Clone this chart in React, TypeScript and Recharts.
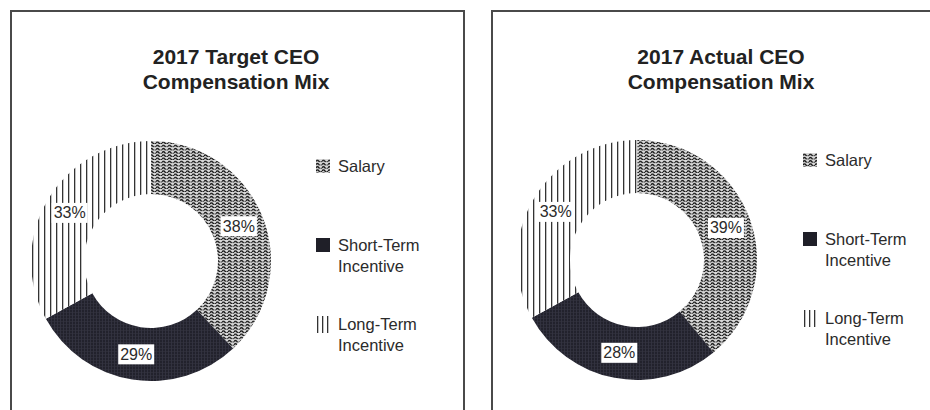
import { Legend, Pie, PieChart, Cell } from "recharts";

const categories = ["Salary", "Short-Term Incentive", "Long-Term Incentive"];
const legendLines = [["Salary"], ["Short-Term", "Incentive"], ["Long-Term", "Incentive"]];
const targetValues = [38, 29, 33];
const actualValues = [39, 28, 33];
const fills = ["url(#wave)", "url(#grid)", "url(#vlines)"];

const FONT = '"Liberation Sans", Arial, Helvetica, sans-serif';
const RAD = Math.PI / 180;

function buildRows(values: number[]) {
  return categories.map((name, i) => ({ name, value: values[i] }));
}

function renderLabel(props: any) {
  const { cx, cy, midAngle, innerRadius, outerRadius, value } = props;
  const r = (innerRadius + outerRadius) / 2 + 1;
  const x = cx + r * Math.cos(-midAngle * RAD);
  const y = cy + r * Math.sin(-midAngle * RAD);
  return (
    <g>
      <rect x={x - 18} y={y - 10} width={36} height={20} fill="#fff" />
      <text
        x={x}
        y={y}
        textAnchor="middle"
        dominantBaseline="central"
        fill="#2a2a2a"
        fontSize={16}
        fontFamily={FONT}
      >
        {value}%
      </text>
    </g>
  );
}

function LegendIcon({ index }: { index: number }) {
  if (index === 2) {
    return (
      <svg width={14} height={17} style={{ flex: "none", marginTop: 2 }}>
        <rect x={1} y={0} width={1.3} height={17} fill="#333" />
        <rect x={6} y={0} width={1.3} height={17} fill="#333" />
        <rect x={11} y={0} width={1.3} height={17} fill="#333" />
      </svg>
    );
  }
  return (
    <svg width={14} height={14} style={{ flex: "none", marginTop: 3 }}>
      <rect width={14} height={14} fill={index === 0 ? "url(#wave)" : "#1f1f28"} />
    </svg>
  );
}

function renderLegend() {
  return (
    <div style={{ fontFamily: FONT, fontSize: 16.5, color: "#2b2b2b", lineHeight: "21px" }}>
      {legendLines.map((lines, i) => (
        <div key={i} style={{ display: "flex", gap: 8, height: 79 }}>
          <LegendIcon index={i} />
          <div>
            {lines.map((l) => (
              <div key={l}>{l}</div>
            ))}
          </div>
        </div>
      ))}
    </div>
  );
}

function Panel({
  left,
  title,
  values,
  cx,
  cy,
  legendLeft,
  legendTop,
  titleCenter,
}: {
  left: number;
  title: string[];
  values: number[];
  cx: number;
  cy: number;
  legendLeft: number;
  legendTop: number;
  titleCenter: number;
}) {
  return (
    <div style={{ position: "absolute", left, top: 0, width: 465, height: 410 }}>
      <div
        style={{
          position: "absolute",
          left: titleCenter - 150,
          top: 44,
          width: 300,
          textAlign: "center",
          fontFamily: FONT,
          fontWeight: 700,
          fontSize: 21,
          lineHeight: "25px",
          color: "#222",
        }}
      >
        {title.map((t) => (
          <div key={t}>{t}</div>
        ))}
      </div>
      <PieChart width={465} height={410} style={{ position: "absolute", left: 0, top: 0 }}>
        <Pie
          data={buildRows(values)}
          dataKey="value"
          nameKey="name"
          cx={cx}
          cy={cy}
          innerRadius={67}
          outerRadius={120}
          startAngle={90}
          endAngle={-270}
          stroke="none"
          label={renderLabel}
          labelLine={false}
          isAnimationActive={false}
        >
          {values.map((_, i) => (
            <Cell key={i} fill={fills[i]} />
          ))}
        </Pie>
        <Legend
          layout="vertical"
          content={renderLegend}
          wrapperStyle={{ left: legendLeft, top: legendTop, width: 140 }}
        />
      </PieChart>
    </div>
  );
}

export default function App() {
  return (
    <div
      style={{
        position: "absolute",
        left: 0,
        top: 0,
        width: 930,
        height: 410,
        overflow: "hidden",
        background: "#fff",
      }}
    >
      <svg width={0} height={0} style={{ position: "absolute" }}>
        <defs>
          <pattern id="wave" patternUnits="userSpaceOnUse" width={6} height={3.2}>
            <rect width={6} height={3.2} fill="#d8d8d8" />
            <path d="M0 2.4 Q1.5 0.2 3 2.4 T6 2.4" fill="none" stroke="#111" strokeWidth={1.3} />
          </pattern>
          <pattern id="grid" patternUnits="userSpaceOnUse" width={3} height={3}>
            <rect width={3} height={3} fill="#22222c" />
            <rect width={0.6} height={3} fill="#3a3a4c" />
            <rect width={3} height={0.6} fill="#33333f" />
          </pattern>
          <pattern id="vlines" patternUnits="userSpaceOnUse" width={6} height={10} x={2}>
            <rect width={6} height={10} fill="#fff" />
            <rect x={0} width={1.3} height={10} fill="#333" />
          </pattern>
        </defs>
      </svg>
      <div
        style={{
          position: "absolute",
          left: 10,
          top: 10,
          width: 451,
          height: 420,
          border: "2px solid #4a4a4a",
        }}
      />
      <div
        style={{
          position: "absolute",
          left: 491,
          top: 10,
          width: 460,
          height: 420,
          border: "2px solid #4a4a4a",
        }}
      />
      <Panel
        left={0}
        title={["2017 Target CEO", "Compensation Mix"]}
        values={targetValues}
        cx={146}
        cy={256}
        legendLeft={316}
        legendTop={156}
        titleCenter={236}
      />
      <Panel
        left={465}
        title={["2017 Actual CEO", "Compensation Mix"]}
        values={actualValues}
        cx={167}
        cy={255}
        legendLeft={338}
        legendTop={150}
        titleCenter={256}
      />
    </div>
  );
}
